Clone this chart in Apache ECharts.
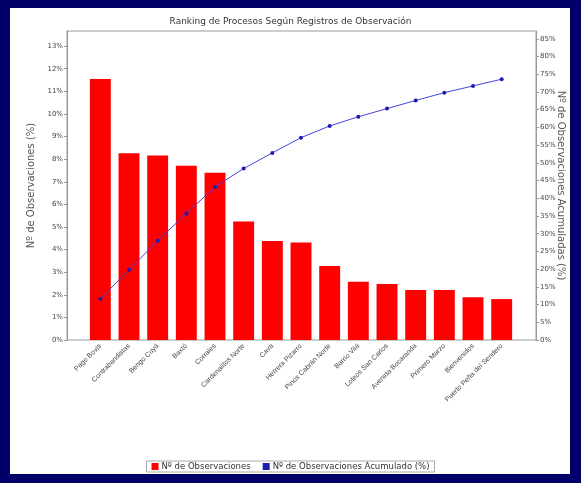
<!DOCTYPE html>
<html>
<head>
<meta charset="utf-8">
<script src="https://cdn.jsdelivr.net/npm/echarts@6/dist/echarts.min.js"></script>
<style>
html,body{margin:0;padding:0;background:#000068;}
#c{width:581px;height:483px;}
</style>
</head>
<body>
<div id="c"></div>
<script>
var categories = ["Pago Bovis","Contrabandistas","Bengo Cuyá","Baxtó","Corrales","Cardenalitos Norte","Cava","Herrera Pizarro","Pinos Cabrán Norte","Barrio Vilá","Loteos San Carlos","Avenida Bocaranda","Primero Marzo","Bienvenidos","Puerto Peña del Sendero"];
var observaciones = [11.55, 8.26, 8.16, 7.71, 7.40, 5.24, 4.38, 4.31, 3.27, 2.58, 2.48, 2.21, 2.21, 1.89, 1.81];
var acumulado = [11.6, 19.8, 28.0, 35.7, 43.2, 48.4, 52.8, 57.1, 60.4, 63.0, 65.3, 67.6, 69.8, 71.7, 73.6];
var leftTicks = {min: 0, max: 13.67, interval: 1};
var rightTicks = {min: 0, max: 87.2, interval: 5};

var chart = echarts.init(document.getElementById('c'));
var fontFam = 'Liberation Sans, Arial, sans-serif';
var wideFam = 'DejaVu Sans, sans-serif';
var labelColor = '#444';
chart.setOption({
  backgroundColor: '#000068',
  textStyle: {fontFamily: fontFam},
  graphic: [{
    type: 'rect', left: 10, top: 8, z: -10,
    shape: {width: 560, height: 466},
    style: {fill: '#ffffff'}
  }],
  title: {
    text: 'Ranking de Procesos Según Registros de Observación',
    left: 'center', top: 12,
    textStyle: {fontSize: 9, fontWeight: 'normal', color: '#333', fontFamily: wideFam}
  },
  legend: {
    bottom: 11, left: 'center',
    itemWidth: 7, itemHeight: 7, itemGap: 12,
    borderColor: '#aaa', borderWidth: 1, padding: [1, 5],
    textStyle: {fontSize: 8.5, color: '#333', fontFamily: wideFam, padding: [0, 0, 0, -2]},
    data: [
      {name: 'Nº de Observaciones', icon: 'rect'},
      {name: 'Nº de Observaciones Acumulado (%)', icon: 'rect'}
    ]
  },
  grid: [
    {left: 86, right: 65, top: 31, bottom: 143},
    {left: 67, right: 45, top: 31, bottom: 143, show: true, backgroundColor: '#fff', borderColor: '#999', borderWidth: 1, z: 0}
  ],
  xAxis: [
    {
      type: 'category', gridIndex: 0, data: categories,
      axisLine: {show: false}, axisTick: {show: false},
      axisLabel: {rotate: 45, interval: 0, fontSize: 7, color: labelColor, margin: 5}
    },
    {type: 'value', gridIndex: 1, show: false}
  ],
  yAxis: [
    {
      type: 'value', gridIndex: 0, position: 'left', offset: 19,
      min: leftTicks.min, max: leftTicks.max, interval: leftTicks.interval,
      name: 'Nº de Observaciones (%)', nameLocation: 'middle', nameGap: 31, nameMoveOverlap: false,
      nameTextStyle: {fontSize: 10, color: '#555', fontFamily: wideFam},
      axisLine: {show: true, lineStyle: {color: '#999'}},
      axisTick: {show: true, length: 3, lineStyle: {color: '#999'}},
      axisLabel: {fontSize: 7, color: labelColor, margin: 4, fontFamily: wideFam, showMaxLabel: false, formatter: function(v){return v + '%';}},
      splitLine: {show: false}
    },
    {
      type: 'value', gridIndex: 0, position: 'right', offset: 20,
      min: rightTicks.min, max: rightTicks.max, interval: rightTicks.interval,
      name: 'Nº de Observaciones Acumuladas (%)', nameLocation: 'middle', nameGap: 20, nameRotate: -90, nameMoveOverlap: false,
      nameTextStyle: {fontSize: 10, color: '#555', fontFamily: wideFam},
      axisLine: {show: true, lineStyle: {color: '#999'}},
      axisTick: {show: true, length: 3, lineStyle: {color: '#999'}},
      axisLabel: {fontSize: 7, color: labelColor, margin: 4, fontFamily: wideFam, showMaxLabel: false, formatter: function(v){return v + '%';}},
      splitLine: {show: false}
    },
    {type: 'value', gridIndex: 1, show: false}
  ],
  series: [
    {
      name: 'Nº de Observaciones', type: 'bar', xAxisIndex: 0, yAxisIndex: 0,
      data: observaciones, barWidth: '73%', z: 2,
      itemStyle: {color: '#ff0000'}
    },
    {
      name: 'Nº de Observaciones Acumulado (%)', type: 'line', xAxisIndex: 0, yAxisIndex: 1,
      data: acumulado, z: 3,
      symbol: 'circle', symbolSize: 4,
      lineStyle: {color: '#4444dd', width: 1},
      itemStyle: {color: '#1c1cb0'}
    }
  ]
});
</script>
</body>
</html>
